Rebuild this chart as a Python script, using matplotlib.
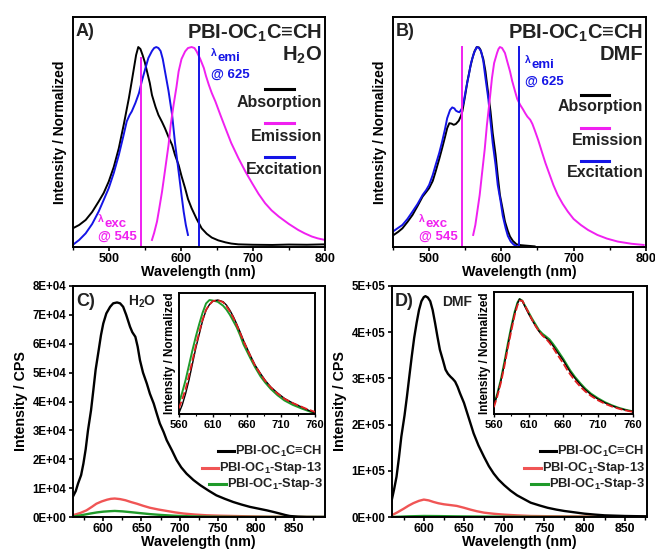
import numpy as np
import matplotlib.pyplot as plt
from matplotlib.ticker import MultipleLocator, FixedLocator, FuncFormatter

plt.rcParams['font.family'] = ['Liberation Sans', 'DejaVu Sans']
plt.rcParams['font.weight'] = 'bold'
plt.rcParams['axes.labelweight'] = 'bold'
plt.rcParams['mathtext.fontset'] = 'custom'
plt.rcParams['mathtext.rm'] = 'Liberation Sans:bold'
plt.rcParams['mathtext.it'] = 'Liberation Sans:bold'
plt.rcParams['mathtext.bf'] = 'Liberation Sans:bold'
plt.rcParams['mathtext.default'] = 'rm'

# ======================================================
# DATA
# ======================================================

# --- A) H2O, normalized spectra
a_abs_wl = [450, 459, 468, 477, 486, 493, 500, 507, 514, 521, 528, 532, 535, 538, 541,
            544, 547, 550, 553, 557, 560, 565, 569, 574, 578, 583, 588, 592, 597, 601,
            606, 610, 615, 622, 629, 636, 643, 652, 662, 670, 680, 700, 727, 750, 775, 800]
a_abs = [0.093, 0.11, 0.135, 0.175, 0.227, 0.27, 0.327, 0.40, 0.494, 0.615, 0.745, 0.83,
         0.895, 0.96, 1.0, 0.99, 0.96, 0.925, 0.88, 0.82, 0.76, 0.70, 0.66, 0.625, 0.594,
         0.55, 0.51, 0.46, 0.41, 0.355, 0.294, 0.24, 0.194, 0.14, 0.093, 0.066, 0.047,
         0.033, 0.023, 0.017, 0.013, 0.011, 0.010, 0.012, 0.011, 0.013]
a_exc_wl = [450, 459, 468, 477, 486, 493, 500, 507, 514, 520, 525, 529, 532, 537, 542,
            546, 551, 555, 560, 563, 566, 569, 572, 575, 578, 583, 588, 592, 597, 601,
            604, 607, 610]
a_exc = [0.01, 0.035, 0.068, 0.115, 0.177, 0.235, 0.294, 0.37, 0.46, 0.55, 0.628, 0.66,
         0.678, 0.72, 0.77, 0.83, 0.895, 0.945, 0.98, 0.995, 1.0, 0.995, 0.98, 0.94,
         0.88, 0.78, 0.66, 0.52, 0.377, 0.26, 0.177, 0.11, 0.06]
a_emi_wl = [560, 563, 567, 570, 574, 578, 583, 586, 590, 594, 597, 601, 606, 610, 615,
            619, 622, 627, 632, 635, 639, 643, 648, 655, 662, 670, 680, 690, 699, 708,
            717, 726, 736, 750, 763, 772, 782, 790, 800]
a_emi = [0.035, 0.07, 0.127, 0.19, 0.277, 0.38, 0.51, 0.61, 0.71, 0.80, 0.878, 0.94,
         0.978, 0.995, 1.0, 0.995, 0.978, 0.94, 0.895, 0.855, 0.81, 0.77, 0.728, 0.66,
         0.594, 0.52, 0.444, 0.375, 0.319, 0.265, 0.219, 0.183, 0.152, 0.115, 0.085,
         0.068, 0.052, 0.043, 0.035]

# --- B) DMF, normalized spectra
b_abs_wl = [451, 457, 463, 470, 477, 484, 491, 496, 500, 505, 509, 514, 518, 522, 525,
            528, 531, 534, 537, 541, 544, 546, 550, 553, 557, 560, 563, 566, 569, 571,
            575, 578, 581, 585, 588, 592, 595, 598, 602, 605, 609, 612, 616, 621, 627,
            633, 646]
b_abs = [0.06, 0.075, 0.093, 0.125, 0.16, 0.205, 0.252, 0.275, 0.294, 0.33, 0.377, 0.44,
         0.494, 0.55, 0.594, 0.619, 0.617, 0.611, 0.615, 0.631, 0.655, 0.678, 0.76,
         0.828, 0.9, 0.945, 0.98, 1.0, 0.998, 0.987, 0.94, 0.878, 0.79, 0.678, 0.57,
         0.461, 0.355, 0.26, 0.185, 0.127, 0.08, 0.052, 0.03, 0.013, 0.009, 0.007, 0.003]
b_exc_wl = [451, 457, 463, 470, 477, 484, 491, 496, 500, 505, 509, 514, 518, 522, 525,
            529, 532, 535, 537, 540, 542, 545, 548, 551, 555, 558, 562, 566, 569, 572,
            575, 578, 582, 585, 588, 592, 595, 599, 602, 606, 609, 613, 617, 621]
b_exc = [0.08, 0.095, 0.11, 0.14, 0.177, 0.215, 0.26, 0.285, 0.31, 0.36, 0.41, 0.47,
         0.527, 0.59, 0.644, 0.685, 0.698, 0.693, 0.682, 0.676, 0.674, 0.69, 0.728, 0.79,
         0.861, 0.92, 0.97, 1.0, 0.995, 0.978, 0.93, 0.845, 0.74, 0.628, 0.52, 0.41,
         0.31, 0.227, 0.155, 0.093, 0.055, 0.027, 0.012, 0.005]
b_emi_wl = [561, 564, 566, 570, 573, 577, 580, 584, 587, 590, 594, 596, 598, 601, 605,
            608, 612, 615, 619, 622, 626, 630, 633, 636, 640, 643, 646, 651, 656, 661,
            667, 672, 678, 685, 692, 700, 710, 720, 733, 746, 761, 780, 797]
b_emi = [0.06, 0.11, 0.16, 0.26, 0.36, 0.49, 0.61, 0.74, 0.845, 0.92, 0.97, 0.99, 1.0,
         0.995, 0.97, 0.93, 0.878, 0.83, 0.778, 0.74, 0.711, 0.688, 0.669, 0.652, 0.636,
         0.615, 0.586, 0.535, 0.477, 0.42, 0.36, 0.31, 0.26, 0.215, 0.177, 0.14, 0.11,
         0.085, 0.06, 0.042, 0.027, 0.016, 0.01]

lam_exc = 545
lam_emi = 625

# --- C) H2O, emission in CPS
c_blk_wl = [560, 564, 567, 571, 574, 577, 580, 584, 587, 590, 594, 597, 600, 604, 609,
            613, 618, 622, 626, 630, 635, 638, 642, 645, 648, 652, 657, 661, 666, 670,
            674, 679, 683, 690, 696, 702, 709, 718, 727, 738, 748, 759, 770, 781, 792,
            803, 814, 822, 831, 838, 844, 855, 866, 890]
c_blk = [6.9e3, 9.0e3, 1.16e4, 1.45e4, 1.85e4, 2.35e4, 3.0e4, 3.7e4, 4.39e4, 5.1e4,
         5.78e4, 6.3e4, 6.7e4, 7.05e4, 7.28e4, 7.4e4, 7.43e4, 7.4e4, 7.28e4, 7.0e4,
         6.59e4, 6.4e4, 6.24e4, 5.9e4, 5.43e4, 5.0e4, 4.62e4, 4.27e4, 3.93e4, 3.58e4,
         3.24e4, 2.94e4, 2.66e4, 2.3e4, 1.97e4, 1.72e4, 1.5e4, 1.28e4, 1.1e4, 9.1e3,
         7.5e3, 6.3e3, 5.2e3, 4.3e3, 3.5e3, 2.9e3, 2.3e3, 1.8e3, 1.2e3, 700, 350, 100,
         0, 0]
c_red_wl = [560, 570, 578, 585, 591, 598, 605, 610, 615, 622, 629, 636, 644, 652, 661,
            672, 683, 694, 705, 720, 735, 752, 770, 792, 814, 850, 890]
c_red = [600, 1.4e3, 2.3e3, 3.5e3, 4.6e3, 5.4e3, 6.0e3, 6.3e3, 6.4e3, 6.2e3, 5.8e3,
         5.2e3, 4.6e3, 3.9e3, 3.2e3, 2.6e3, 2.1e3, 1.6e3, 1.2e3, 850, 600, 450, 350,
         220, 120, 50, 0]
c_grn_wl = [560, 572, 583, 592, 600, 608, 615, 625, 635, 648, 661, 676, 692, 712, 735, 780, 890]
c_grn = [100, 650, 1.2e3, 1.6e3, 1.85e3, 2.0e3, 2.1e3, 1.95e3, 1.7e3, 1.35e3, 1.0e3,
         700, 450, 250, 120, 40, 0]

# C inset, normalized
ci_wl = [560, 565, 570, 575, 580, 585, 590, 595, 600, 605, 610, 617, 625, 630, 635, 640,
         645, 650, 655, 660, 665, 672, 680, 687, 695, 705, 715, 727, 740, 750, 760]
ci_blk = [0.006, 0.08, 0.18, 0.30, 0.44, 0.58, 0.70, 0.82, 0.91, 0.96, 0.99, 1.0, 0.985,
          0.955, 0.91, 0.855, 0.79, 0.72, 0.645, 0.58, 0.515, 0.43, 0.355, 0.295, 0.238,
          0.185, 0.138, 0.098, 0.063, 0.035, 0.01]
ci_red = [0.05, 0.13, 0.22, 0.34, 0.47, 0.60, 0.72, 0.83, 0.915, 0.96, 0.99, 1.0, 0.98,
          0.945, 0.9, 0.845, 0.78, 0.71, 0.64, 0.575, 0.51, 0.425, 0.35, 0.29, 0.235,
          0.18, 0.135, 0.098, 0.065, 0.04, 0.02]
ci_grn = [0.093, 0.19, 0.30, 0.43, 0.56, 0.68, 0.79, 0.89, 0.97, 1.0, 0.995, 0.985, 0.95,
          0.915, 0.87, 0.815, 0.76, 0.69, 0.61, 0.55, 0.49, 0.41, 0.33, 0.275, 0.22,
          0.165, 0.12, 0.082, 0.05, 0.028, 0.006]

# --- D) DMF, emission in CPS
d_blk_wl = [560, 563, 566, 569, 572, 576, 579, 582, 585, 588, 591, 594, 597, 600, 602,
            605, 608, 611, 614, 617, 620, 624, 627, 630, 633, 636, 639, 642, 645, 650,
            654, 658, 662, 668, 675, 681, 687, 693, 700, 708, 716, 725, 733, 744, 754,
            765, 775, 788, 800, 813, 825, 850, 878]
d_blk = [3.6e4, 6.0e4, 8.7e4, 1.28e5, 1.74e5, 2.2e5, 2.61e5, 3.05e5, 3.48e5, 3.88e5,
         4.2e5, 4.48e5, 4.67e5, 4.76e5, 4.78e5, 4.75e5, 4.67e5, 4.48e5, 4.2e5, 3.9e5,
         3.62e5, 3.38e5, 3.19e5, 3.1e5, 3.04e5, 2.99e5, 2.93e5, 2.82e5, 2.68e5, 2.47e5,
         2.25e5, 2.03e5, 1.81e5, 1.55e5, 1.3e5, 1.1e5, 9.4e4, 8.1e4, 6.9e4, 5.7e4,
         4.7e4, 3.85e4, 3.1e4, 2.5e4, 2.0e4, 1.6e4, 1.3e4, 1.0e4, 7.2e3, 5.2e3, 3.6e3,
         2.2e3, 1.4e3]
d_red_wl = [560, 567, 575, 581, 587, 594, 600, 606, 612, 618, 625, 633, 641, 650, 658,
            666, 675, 687, 700, 716, 733, 755, 775, 820, 878]
d_red = [3.6e3, 1.0e4, 1.8e4, 2.45e4, 3.0e4, 3.5e4, 3.77e4, 3.6e4, 3.26e4, 2.98e4,
         2.75e4, 2.58e4, 2.4e4, 2.0e4, 1.6e4, 1.25e4, 9.4e3, 7.0e3, 5.1e3, 3.5e3,
         2.2e3, 1.7e3, 1.4e3, 1.0e3, 700]
d_grn_wl = [560, 580, 600, 620, 640, 680, 733, 800, 878]
d_grn = [0, 1.4e3, 2.2e3, 1.9e3, 1.4e3, 900, 400, 150, 0]

# D inset, normalized
di_wl = [560, 565, 570, 575, 580, 585, 590, 594, 597, 601, 605, 610, 615, 620, 625, 630,
         635, 640, 645, 650, 655, 660, 665, 670, 677, 685, 692, 700, 710, 720, 730, 740,
         750, 760]
di_blk = [0.074, 0.17, 0.285, 0.43, 0.59, 0.74, 0.876, 0.96, 1.0, 0.98, 0.93, 0.87,
          0.816, 0.765, 0.718, 0.685, 0.662, 0.634, 0.595, 0.55, 0.508, 0.465, 0.415,
          0.366, 0.31, 0.253, 0.21, 0.169, 0.13, 0.098, 0.072, 0.051, 0.035, 0.022]
di_red = [0.06, 0.155, 0.27, 0.41, 0.57, 0.72, 0.86, 0.945, 0.985, 0.985, 0.94, 0.88,
          0.82, 0.765, 0.72, 0.682, 0.655, 0.62, 0.578, 0.53, 0.485, 0.44, 0.39, 0.345,
          0.29, 0.235, 0.195, 0.158, 0.12, 0.09, 0.066, 0.047, 0.032, 0.02]
di_grn = [0.08, 0.18, 0.30, 0.45, 0.61, 0.76, 0.89, 0.97, 1.0, 0.985, 0.94, 0.885,
          0.83, 0.78, 0.73, 0.698, 0.675, 0.65, 0.612, 0.57, 0.525, 0.48, 0.43, 0.38,
          0.322, 0.265, 0.22, 0.178, 0.138, 0.104, 0.077, 0.055, 0.038, 0.025]

ins_ticks = [560, 610, 660, 710, 760]

series_names = ["PBI-OC$_1$C≡CH", "PBI-OC$_1$-Stap-13", "PBI-OC$_1$-Stap-3"]

# ======================================================
# STYLE
# ======================================================

MAG = "#f020f0"
BLU = "#1414e6"
RED = "#f05555"
GRN = "#1f9a2a"
TXT = "#222222"
LW = 1.4

fig = plt.figure(figsize=(6.55, 5.5), dpi=100)

axA = fig.add_axes([0.111, 0.551, 0.385, 0.418])
axB = fig.add_axes([0.600, 0.551, 0.386, 0.418])
axC = fig.add_axes([0.111, 0.060, 0.385, 0.420])
axD = fig.add_axes([0.598, 0.060, 0.390, 0.420])
insC = fig.add_axes([0.273, 0.247, 0.208, 0.220])
insD = fig.add_axes([0.754, 0.247, 0.212, 0.222])

for ax in [axA, axB, axC, axD, insC, insD]:
    for s in ax.spines.values():
        s.set_linewidth(1.4)


def lam_label(ax, x, y, sub, col):
    # small lambda followed by a lowered, larger suffix
    ax.text(x, y + 0.012, "λ", transform=ax.transAxes, fontsize=7.5,
            color=col, va="center", ha="left")
    ax.annotate(sub, xy=(x, y), xycoords="axes fraction", xytext=(4.6, -1.5),
                textcoords="offset points", fontsize=9.5, color=col,
                va="center", ha="left")


# ======================================================
# TOP PANELS
# ======================================================

def top_panel(ax, tag, solvent, abs_wl, abs_v, exc_wl, exc_v, emi_wl, emi_v,
              exc_top, emi_txt_x, emi_txt_y, leg_y):
    ax.plot(abs_wl, abs_v, color="black", lw=LW)
    ax.plot(exc_wl, exc_v, color=BLU, lw=LW)
    ax.plot(emi_wl, emi_v, color=MAG, lw=LW)
    ax.plot([lam_exc, lam_exc], [0, exc_top], color=MAG, lw=LW)
    ax.plot([lam_emi, lam_emi], [0, 1.0], color=BLU, lw=LW)

    ax.set_xlim(450, 800)
    ax.set_ylim(0, 1.15)
    ax.set_yticks([])
    ax.xaxis.set_major_locator(MultipleLocator(100))
    ax.xaxis.set_minor_locator(MultipleLocator(50))
    ax.tick_params(axis="x", which="major", labelsize=9, length=3, width=1.2, pad=1.5)
    ax.tick_params(axis="x", which="minor", length=2, width=1)
    ax.set_xlabel("Wavelength (nm)", fontsize=10.3, labelpad=0)
    ax.set_ylabel("Intensity / Normalized", fontsize=10, labelpad=4)

    ax.text(0.012, 0.936, tag, transform=ax.transAxes, fontsize=13,
            color=TXT, va="center", ha="left")
    ax.text(0.99, 0.93, "PBI-OC$_1$C≡CH", transform=ax.transAxes, fontsize=14.5,
            color=TXT, va="center", ha="right")
    ax.text(0.99, 0.835, solvent, transform=ax.transAxes, fontsize=14.5,
            color=TXT, va="center", ha="right")

    lam_label(ax, emi_txt_x, emi_txt_y, "emi", BLU)
    ax.text(emi_txt_x, emi_txt_y - 0.08, "@ 625", transform=ax.transAxes,
            fontsize=9.5, color=BLU, va="center", ha="left")
    lam_label(ax, 0.102, 0.11, "exc", MAG)
    ax.text(0.102, 0.045, "@ 545", transform=ax.transAxes,
            fontsize=9.5, color=MAG, va="center", ha="left")

    x0, x1 = leg_y[0]
    for (lab, col), (yl, yt) in zip(
            [("Absorption", "black"), ("Emission", MAG), ("Excitation", BLU)],
            leg_y[1:]):
        ax.plot([x0, x1], [yl, yl], transform=ax.transAxes, color=col, lw=2.2)
        ax.text(0.99, yt, lab, transform=ax.transAxes, fontsize=11.5,
                color=TXT, va="center", ha="right")


top_panel(axA, "A)", "H$_2$O", a_abs_wl, a_abs, a_exc_wl, a_exc, a_emi_wl, a_emi,
          0.945, 0.55, 0.83,
          [(0.761, 0.876), (0.687, 0.629), (0.538, 0.48), (0.393, 0.339)])
top_panel(axB, "B)", "DMF", b_abs_wl, b_abs, b_exc_wl, b_exc, b_emi_wl, b_emi,
          1.0, 0.523, 0.80,
          [(0.744, 0.855), (0.66, 0.61), (0.519, 0.461), (0.375, 0.325)])


# ======================================================
# BOTTOM PANELS
# ======================================================

def sci(v, pos):
    return "{:.0E}".format(v)


def bottom_panel(ax, ins, tag, solvent, solv_x, xmax, ymax, ystep, curves, ins_curves, ins_wl):
    (bw, bv), (rw, rv), (gw, gv) = curves
    ax.plot(bw, bv, color="black", lw=LW + 0.3, zorder=3)
    ax.plot(rw, rv, color=RED, lw=LW + 0.3, zorder=2)
    ax.plot(gw, gv, color=GRN, lw=LW + 0.3, zorder=2)
    ax.set_xlim(560, xmax)
    ax.set_ylim(0, ymax)
    ax.xaxis.set_major_locator(MultipleLocator(50))
    ax.xaxis.set_minor_locator(MultipleLocator(25))
    ax.yaxis.set_major_locator(MultipleLocator(ystep))
    ax.yaxis.set_major_formatter(FuncFormatter(sci))
    ax.tick_params(which="major", length=3, width=1.2, pad=1.5)
    ax.tick_params(axis="x", which="major", labelsize=8.8)
    ax.tick_params(axis="y", which="major", labelsize=8.3)
    ax.tick_params(which="minor", length=2, width=1)
    ax.set_xlabel("Wavelength (nm)", fontsize=10.3, labelpad=0)
    ax.set_ylabel("Intensity / CPS", fontsize=10.3, labelpad=3)

    ax.text(0.013, 0.932, tag, transform=ax.transAxes, fontsize=13,
            color=TXT, va="center", ha="left")
    ax.text(solv_x, 0.932, solvent, transform=ax.transAxes, fontsize=10,
            color=TXT, va="center", ha="left")

    # right-aligned legend: line just before the text
    r = fig.canvas.get_renderer()
    for lab, col, y in zip(series_names, ["black", RED, GRN], [0.285, 0.214, 0.145]):
        t = ax.text(0.99, y, lab, transform=ax.transAxes, fontsize=9.3,
                    color=TXT, va="center", ha="right")
        bb = t.get_window_extent(renderer=r).transformed(ax.transAxes.inverted())
        ax.plot([bb.x0 - 0.07, bb.x0 - 0.004], [y, y], transform=ax.transAxes,
                color=col, lw=2.2)

    ib, ir, ig = ins_curves
    ins.plot(ins_wl, ib, color="black", lw=1.0, zorder=3)
    ins.plot(ins_wl, ir, color="#e02020", lw=1.3, ls=(0, (4, 1.5)), zorder=4)
    ins.plot(ins_wl, ig, color=GRN, lw=1.4, zorder=2)
    ins.set_xlim(560, 760)
    ins.set_ylim(0, 1.06)
    ins.set_yticks([])
    ins.xaxis.set_major_locator(FixedLocator(ins_ticks))
    ins.xaxis.set_minor_locator(MultipleLocator(25))
    ins.xaxis.set_minor_locator(FixedLocator([585, 635, 685, 735]))
    ins.tick_params(axis="x", which="major", labelsize=8, length=2.5, width=1, pad=1.5)
    ins.tick_params(axis="x", which="minor", length=1.5, width=0.8)
    ins.set_ylabel("Intensity / Normalized", fontsize=8.5, labelpad=2)


bottom_panel(axC, insC, "C)", "H$_2$O", 0.22, 890, 8e4, 1e4,
             [(c_blk_wl, c_blk), (c_red_wl, c_red), (c_grn_wl, c_grn)],
             [ci_blk, ci_red, ci_grn], ci_wl)
bottom_panel(axD, insD, "D)", "DMF", 0.196, 878, 5e5, 1e5,
             [(d_blk_wl, d_blk), (d_red_wl, d_red), (d_grn_wl, d_grn)],
             [di_blk, di_red, di_grn], di_wl)

fig.savefig("out.png", dpi=100)
